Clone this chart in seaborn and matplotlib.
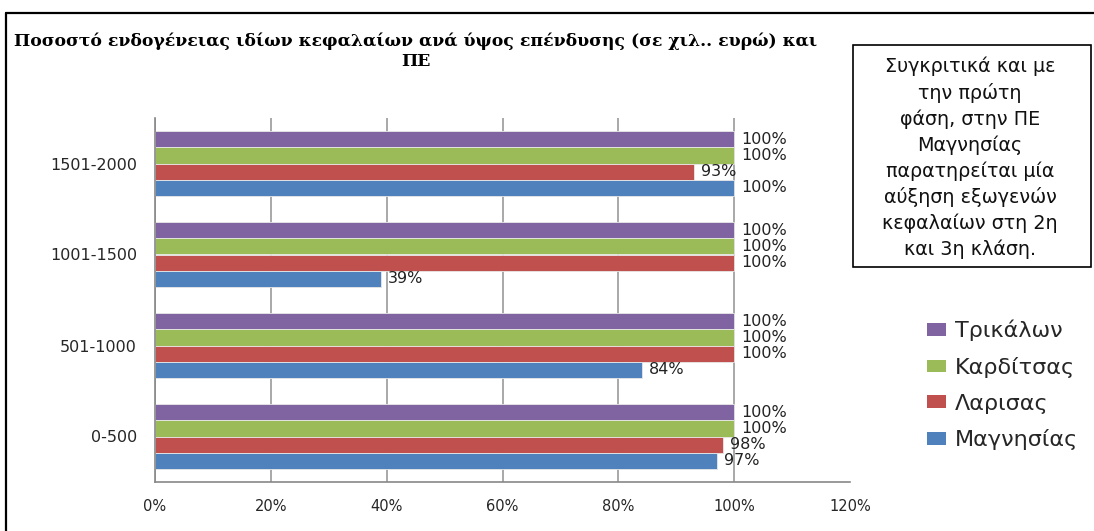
import pandas as pd
import seaborn as sns
import matplotlib.pyplot as plt
from matplotlib.patches import Rectangle, Patch
from matplotlib.lines import Line2D

# data (percent)
classes = ["1501-2000", "1001-1500", "501-1000", "0-500"]
regions = ["Τρικάλων", "Καρδίτσας", "Λαρισας", "Μαγνησίας"]
trikalon = [100, 100, 100, 100]
karditsas = [100, 100, 100, 100]
larisas = [93, 100, 100, 98]
magnisias = [100, 39, 84, 97]

colors = ["#8064A2", "#9BBB59", "#C0504D", "#4F81BD"]

rows = []
for reg, vals in zip(regions, [trikalon, karditsas, larisas, magnisias]):
    for c, v in zip(classes, vals):
        rows.append({"class": c, "region": reg, "value": v})
df = pd.DataFrame(rows)

sns.set_style("white")
plt.rcParams['font.family'] = ['DejaVu Sans']

fig = plt.figure(figsize=(10.94, 5.31), dpi=100)
ax = fig.add_axes([155 / 1094, 1 - 482 / 531, 695 / 1094, 364 / 531])

sns.barplot(data=df, x="value", y="class", hue="region", order=classes,
            hue_order=regions, palette=colors, saturation=1, orient="h",
            width=0.71, edgecolor="#e8e8e8", linewidth=0.6, legend=False, ax=ax)

for cont in ax.containers:
    ax.bar_label(cont, labels=[f"{int(b.get_width())}%" for b in cont],
                 padding=5, fontsize=11.5, color="#222222")

ax.set_xlim(0, 120)
ax.set_ylim(3.5, -0.5)
ax.set_xticks(range(0, 121, 20))
ax.set_xticklabels([f"{t}%" for t in range(0, 121, 20)], fontsize=10.5)
ax.set_yticks(range(len(classes)))
ax.set_yticklabels(classes, fontsize=11.5)
ax.set_yticks([-0.5, 0.5, 1.5, 2.5, 3.5], minor=True)
ax.tick_params(axis="y", which="major", length=0, pad=13)
ax.tick_params(axis="y", which="minor", length=6, color="#888888", direction="out")
ax.tick_params(axis="x", length=6, color="#888888", direction="out", pad=6)
ax.set_xlabel("")
ax.set_ylabel("")
ax.grid(axis="x", color="#999999", linewidth=1.2)
ax.get_xgridlines()[-1].set_visible(False)
ax.set_axisbelow(True)
for s in ["top", "right"]:
    ax.spines[s].set_visible(False)
for s in ["left", "bottom"]:
    ax.spines[s].set_color("#888888")
    ax.spines[s].set_linewidth(1.2)

# title
fig.text(416 / 1094, 1 - 51 / 531,
         "Ποσοστό ενδογένειας ιδίων κεφαλαίων ανά ύψος επένδυσης (σε χιλ.. ευρώ) και\nΠΕ",
         ha="center", va="center", fontsize=12.4, fontweight="bold",
         family=["DejaVu Serif"], linespacing=1.25, color="black")

# outer chart frame
fig.add_artist(Line2D([6 / 1094, 6 / 1094], [0, 1 - 13 / 531], color="black",
                      lw=1.6, transform=fig.transFigure))
fig.add_artist(Line2D([6 / 1094, 1], [1 - 13 / 531, 1 - 13 / 531], color="black",
                      lw=1.6, transform=fig.transFigure))

# comment box
fig.add_artist(Rectangle((853 / 1094, 1 - 267 / 531), 238 / 1094, 222 / 531,
                         transform=fig.transFigure, fill=False,
                         edgecolor="black", lw=1.2))
fig.text(970 / 1094, 1 - 158 / 531,
         "Συγκριτικά και με\nτην πρώτη\nφάση, στην ΠΕ\nΜαγνησίας\n"
         "παρατηρείται μία\nαύξηση εξωγενών\nκεφαλαίων στη 2η\nκαι 3η κλάση.",
         ha="center", va="center", fontsize=13.8, linespacing=1.42,
         color="#111111")

# legend
handles = [Patch(facecolor=c, edgecolor="none") for c in colors]
fig.legend(handles, regions, loc="center left",
           bbox_to_anchor=(907 / 1094, 1 - 385 / 531), frameon=False,
           fontsize=16, labelspacing=0.7, handlelength=0.85, handleheight=0.5,
           handletextpad=0.4)

plt.savefig("out.png", dpi=100)
